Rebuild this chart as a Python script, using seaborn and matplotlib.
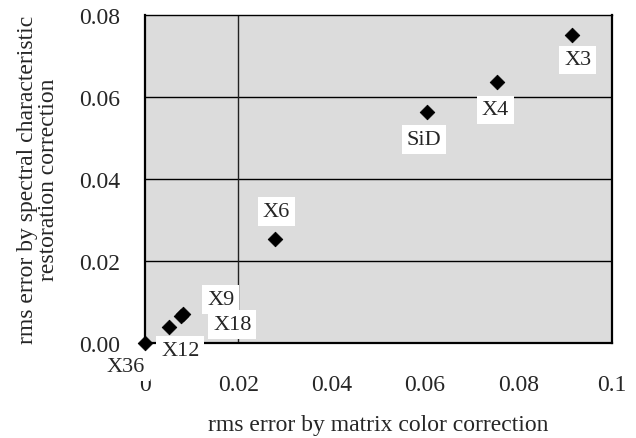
import matplotlib.pyplot as plt
import pandas as pd
import seaborn as sns

# Values
names = ["X3", "X4", "SiD", "X6", "X9", "X18", "X12", "X36"]
matrix_err = [0.0915, 0.0754, 0.0603, 0.0278, 0.0082, 0.0077, 0.0052, 0.0]
spectral_err = [0.0751, 0.0636, 0.0563, 0.0254, 0.0072, 0.0066, 0.0040, 0.0]
xticks = [0, 0.02, 0.04, 0.06, 0.08, 0.1]
xticklabels = ["0", "0.02", "0.04", "0.06", "0.08", "0.1"]
yticks = [0.0, 0.02, 0.04, 0.06, 0.08]
yticklabels = ["0.00", "0.02", "0.04", "0.06", "0.08"]

df = pd.DataFrame({"name": names, "x": matrix_err, "y": spectral_err})

sns.set_style("white")
plt.rcParams["font.family"] = ["Liberation Serif", "DejaVu Serif"]

fig = plt.figure(figsize=(6.36, 4.39), dpi=100)
ax = fig.add_axes([0.228, 0.216, 0.734, 0.748])
ax.set_facecolor("#dcdcdc")

sns.scatterplot(data=df, x="x", y="y", marker="D", s=55, color="black",
                edgecolor="black", ax=ax, zorder=5, clip_on=False)

# label offsets in points (dx, dy) relative to each marker
offsets = {
    "X3": (4, -18), "X4": (-1, -20), "SiD": (-2, -20), "X6": (1, 20),
    "X9": (27, 10), "X18": (37, -6), "X12": (8, -17), "X36": (-14, -17),
}
for n, x, y in zip(names, matrix_err, spectral_err):
    dx, dy = offsets[n]
    ax.annotate(n, (x, y), xytext=(dx, dy), textcoords="offset points",
                ha="center", va="center", fontsize=16, zorder=4,
                bbox=dict(boxstyle="square,pad=0.22", fc="white", ec="none"),
                annotation_clip=False)

ax.set_xlim(0, 0.1)
ax.set_ylim(0, 0.08)
ax.set_xticks(xticks)
ax.set_xticklabels(xticklabels)
ax.set_yticks(yticks)
ax.set_yticklabels(yticklabels)
ax.tick_params(length=0, labelsize=17)
ax.tick_params(axis="x", pad=22)
ax.tick_params(axis="y", pad=18)

for yv in [0.02, 0.04, 0.06]:
    ax.axhline(yv, color="black", lw=1, zorder=2)
ax.axvline(0.02, color="#222222", lw=1, zorder=2)

for side in ["left", "bottom", "right", "top"]:
    ax.spines[side].set_color("black")
    ax.spines[side].set_linewidth(1.6)
ax.spines["top"].set_linewidth(1.0)

ax.set_xlabel("rms error by matrix color correction", fontsize=17, labelpad=14)
ax.set_ylabel("rms error by spectral characteristic\nrestoration correction",
              fontsize=17, labelpad=14, linespacing=1.0)

fig.savefig("out.png", dpi=100)
